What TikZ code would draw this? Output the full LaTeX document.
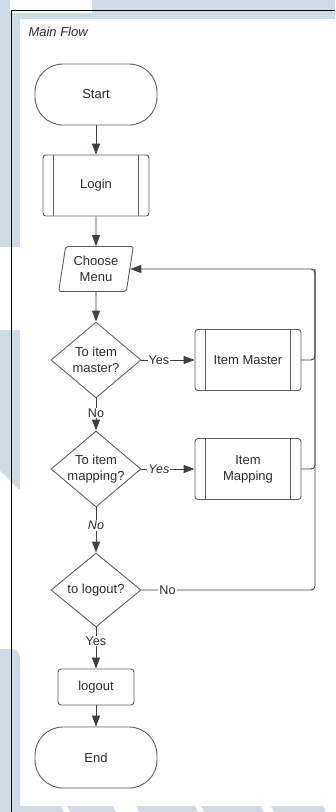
\documentclass[tikz,border=0pt]{standalone}
\usepackage{fontspec}
\setmainfont{Liberation Sans}
\usetikzlibrary{shapes.geometric,arrows.meta}

\definecolor{wm}{RGB}{206,218,228}
\definecolor{edge}{RGB}{95,95,95}
\definecolor{wire}{RGB}{58,65,74}
\definecolor{ink}{RGB}{45,45,45}

\begin{document}
\begin{tikzpicture}[x=1pt,y=-1pt,
  txt/.style={font=\fontsize{13}{16}\selectfont, text=ink},
  shapebox/.style={txt, draw=edge, line width=0.9pt, fill=white, align=center},
  term/.style={shapebox, rounded corners=28pt, minimum width=122pt, minimum height=61pt},
  subproc/.style={shapebox, rounded corners=3pt, minimum width=106pt, minimum height=61pt,
    path picture={\draw[edge, line width=0.9pt]
      ([xshift=10.5pt]path picture bounding box.north west) -- ([xshift=10.5pt]path picture bounding box.south west)
      ([xshift=-10.5pt]path picture bounding box.north east) -- ([xshift=-10.5pt]path picture bounding box.south east);}},
  proc/.style={shapebox, rounded corners=3pt, minimum width=76pt, minimum height=36pt},
  io/.style={shapebox, trapezium, trapezium left angle=79, trapezium right angle=101,
    trapezium stretches=true, minimum width=75pt, minimum height=45pt, inner sep=1pt, rounded corners=2pt},
  decision/.style={shapebox, diamond, aspect=1.18, inner sep=-2pt, minimum width=90pt, minimum height=76pt},
  conn/.style={draw=wire, line width=0.9pt, -{Triangle[length=11pt,width=8pt]}},
  wireline/.style={draw=wire, line width=0.9pt},
  lbl/.style={fill=white, inner sep=1pt, text=ink, font=\fontsize{12.6}{14}\selectfont},
  ilbl/.style={lbl, font=\itshape\fontsize{12.6}{14}\selectfont}
]
\useasboundingbox (0,0) rectangle (335,812);

% page background with its pale panels
\fill[wm] (0,0) rectangle (335,812);
\fill[white] (10,0) rectangle (92,13);
\fill[white] (20,19) rectangle (335,806);
\fill[white] (0,247) rectangle (20,330);
\fill[white] (0,471) .. controls (8,478) and (14,486) .. (20,490) -- (20,660) -- (0,660) -- cycle;
\fill[wm] (0,812) -- (0,649) -- (12,649) .. controls (16.4,649) and (20,652.6) .. (20,657) -- (20,812) -- cycle;
\fill[white] (61,806) -- (67,806) -- (70,812) -- (64,812) -- cycle;
\fill[white] (113,806) -- (136,806) -- (139,812) -- (116,812) -- cycle;
\fill[white] (195,806) -- (201,806) -- (204,812) -- (198,812) -- cycle;
\fill[white] (261,806) -- (271,806) -- (274,812) -- (264,812) -- cycle;
\fill[white] (323,806) -- (335,806) -- (335,812) -- (326,812) -- cycle;

% frame
\draw[black, line width=1pt] (335,10.5) -- (11.5,10.5) -- (11.5,812);

\node[txt, anchor=west, font=\itshape\fontsize{13}{16}\selectfont] (title) at (25,32) {Main Flow};

% nodes
\node[term] (start) at (96,94.5) {Start};
\node[subproc] (login) at (96,185.5) {Login};
\node[io] (menu) at (96,269) {Choose\\Menu};
\node[decision] (d1) at (96,360) {To item\\master?};
\node[subproc] (im) at (248,360) {Item Master};
\node[decision] (d2) at (96,469) {To item\\mapping?};
\node[subproc] (mp) at (248,469) {Item\\Mapping};
\node[decision, minimum height=74pt] (d3) at (96,590) {to logout?};
\node[proc] (lo) at (96,687) {logout};
\node[term] (end) at (96,757.5) {End};

\coordinate (rail) at (315,0);
\coordinate (rt) at (menu.east -| rail);

% connectors
\draw[conn] (start) -- (login);
\draw[conn] (login) -- (menu);
\draw[conn] (menu) -- (d1);
\draw[conn] (d1.east) -- node[lbl, pos=0.33] {Yes} (im.west);
\draw[conn] (d1) -- node[lbl, pos=0.45] {No} (d2);
\draw[conn] (d2.east) -- node[ilbl, pos=0.33] {Yes} (mp.west);
\draw[conn] (d2) -- node[ilbl, pos=0.4] {No} (d3);
\draw[conn] (d3) -- node[lbl, pos=0.33] {Yes} (lo);
\draw[conn] (lo) -- (end);
\draw[wireline, rounded corners=4pt] (im.east) -| (rt);
\draw[wireline, rounded corners=4pt] (mp.east) -| (rt);
\draw[conn, rounded corners=4pt] (d3.east) -- node[lbl, pos=0.15] {No} (d3.east -| rail) -- (rt) -- (menu.east);
\end{tikzpicture}
\end{document}
